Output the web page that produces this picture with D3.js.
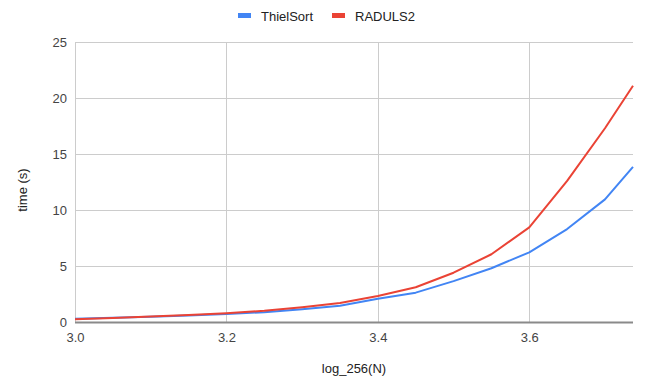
<!DOCTYPE html>
<html>
<head>
<meta charset="utf-8">
<script src="https://cdn.jsdelivr.net/npm/d3@7"></script>
<style>
  body { margin: 0; background: #fff; }
  text { font-family: Arial, "Liberation Sans", sans-serif; }
</style>
</head>
<body>
<svg id="chart" width="645" height="385"></svg>
<script>
// x values: log_256(N), last point is N = 1e9
const logN = [3.0, 3.05, 3.1, 3.15, 3.2, 3.25, 3.3, 3.35, 3.4, 3.45, 3.5, 3.55, 3.6, 3.65, 3.7, 3.737];
const thielSort = [0.30, 0.38, 0.47, 0.58, 0.72, 0.88, 1.13, 1.45, 2.08, 2.62, 3.65, 4.8, 6.22, 8.3, 10.95, 13.85];
const raduls2 = [0.25, 0.36, 0.48, 0.62, 0.78, 1.0, 1.32, 1.7, 2.33, 3.1, 4.4, 6.05, 8.45, 12.6, 17.3, 21.1];
const xTicks = [3.0, 3.2, 3.4, 3.6];
const yTicks = [0, 5, 10, 15, 20, 25];

const series = [
    { name: "ThielSort", values: thielSort, color: "#4285f4" },
    { name: "RADULS2", values: raduls2, color: "#ea4335" }
];

const svg = d3.select("#chart");
const plotLeft = 75, plotRight = 633, plotTop = 42, plotBottom = 322;

const x = d3.scaleLinear().domain([3.0, 3.737]).range([plotLeft, plotRight]);
const y = d3.scaleLinear().domain([0, 25]).range([plotBottom, plotTop]);

// gridlines
svg.append("g").selectAll("line")
    .data(yTicks.filter(d => d > 0))
    .join("line")
    .attr("x1", plotLeft).attr("x2", plotRight)
    .attr("y1", d => y(d) + 0.5).attr("y2", d => y(d) + 0.5)
    .attr("stroke", "#cccccc").attr("stroke-width", 1);

svg.append("g").selectAll("line")
    .data(xTicks)
    .join("line")
    .attr("x1", d => Math.round(x(d)) + 0.5).attr("x2", d => Math.round(x(d)) + 0.5)
    .attr("y1", plotTop).attr("y2", plotBottom)
    .attr("stroke", "#cccccc").attr("stroke-width", 1);

// y tick labels
const yAxis = d3.axisLeft(y).tickValues(yTicks).tickSize(0).tickPadding(8);
const gy = svg.append("g").attr("transform", `translate(${plotLeft},0)`).call(yAxis);
gy.select(".domain").remove();
gy.selectAll("text").attr("font-size", 13).attr("fill", "#444").attr("font-family", "Arial, 'Liberation Sans', sans-serif");

// x tick labels
const xAxis = d3.axisBottom(x).tickValues(xTicks).tickFormat(d3.format(".1f")).tickSize(0).tickPadding(11);
const gx = svg.append("g").attr("transform", `translate(0,${plotBottom})`).call(xAxis);
gx.select(".domain").remove();
gx.selectAll("text").attr("font-size", 13).attr("fill", "#444").attr("font-family", "Arial, 'Liberation Sans', sans-serif");

// lines
const line = d3.line()
    .x((d, i) => x(logN[i]))
    .y(d => y(d));

series.forEach(s => {
    svg.append("path")
        .datum(s.values)
        .attr("d", line)
        .attr("fill", "none")
        .attr("stroke", s.color)
        .attr("stroke-width", 2)
        .attr("stroke-linejoin", "round");
});

// baseline
svg.append("line")
    .attr("x1", plotLeft).attr("x2", plotRight)
    .attr("y1", plotBottom + 0.5).attr("y2", plotBottom + 0.5)
    .attr("stroke", "#8a8a8a").attr("stroke-width", 2);

// axis titles
svg.append("text")
    .attr("x", 354).attr("y", 373)
    .attr("text-anchor", "middle")
    .attr("font-size", 13).attr("fill", "#222")
    .text("log_256(N)");

svg.append("text")
    .attr("transform", "translate(27,190) rotate(-90)")
    .attr("text-anchor", "middle")
    .attr("font-size", 13).attr("fill", "#222")
    .text("time (s)");

// legend
const legendX = [238, 332];
const legend = svg.append("g").selectAll("g")
    .data(series)
    .join("g")
    .attr("transform", (d, i) => `translate(${legendX[i]},16)`);
legend.append("rect")
    .attr("x", 0).attr("y", -3)
    .attr("width", 13).attr("height", 5)
    .attr("fill", d => d.color);
legend.append("text")
    .attr("x", 23).attr("y", 4.5)
    .attr("font-size", 13).attr("fill", "#222")
    .text(d => d.name);
</script>
</body>
</html>
